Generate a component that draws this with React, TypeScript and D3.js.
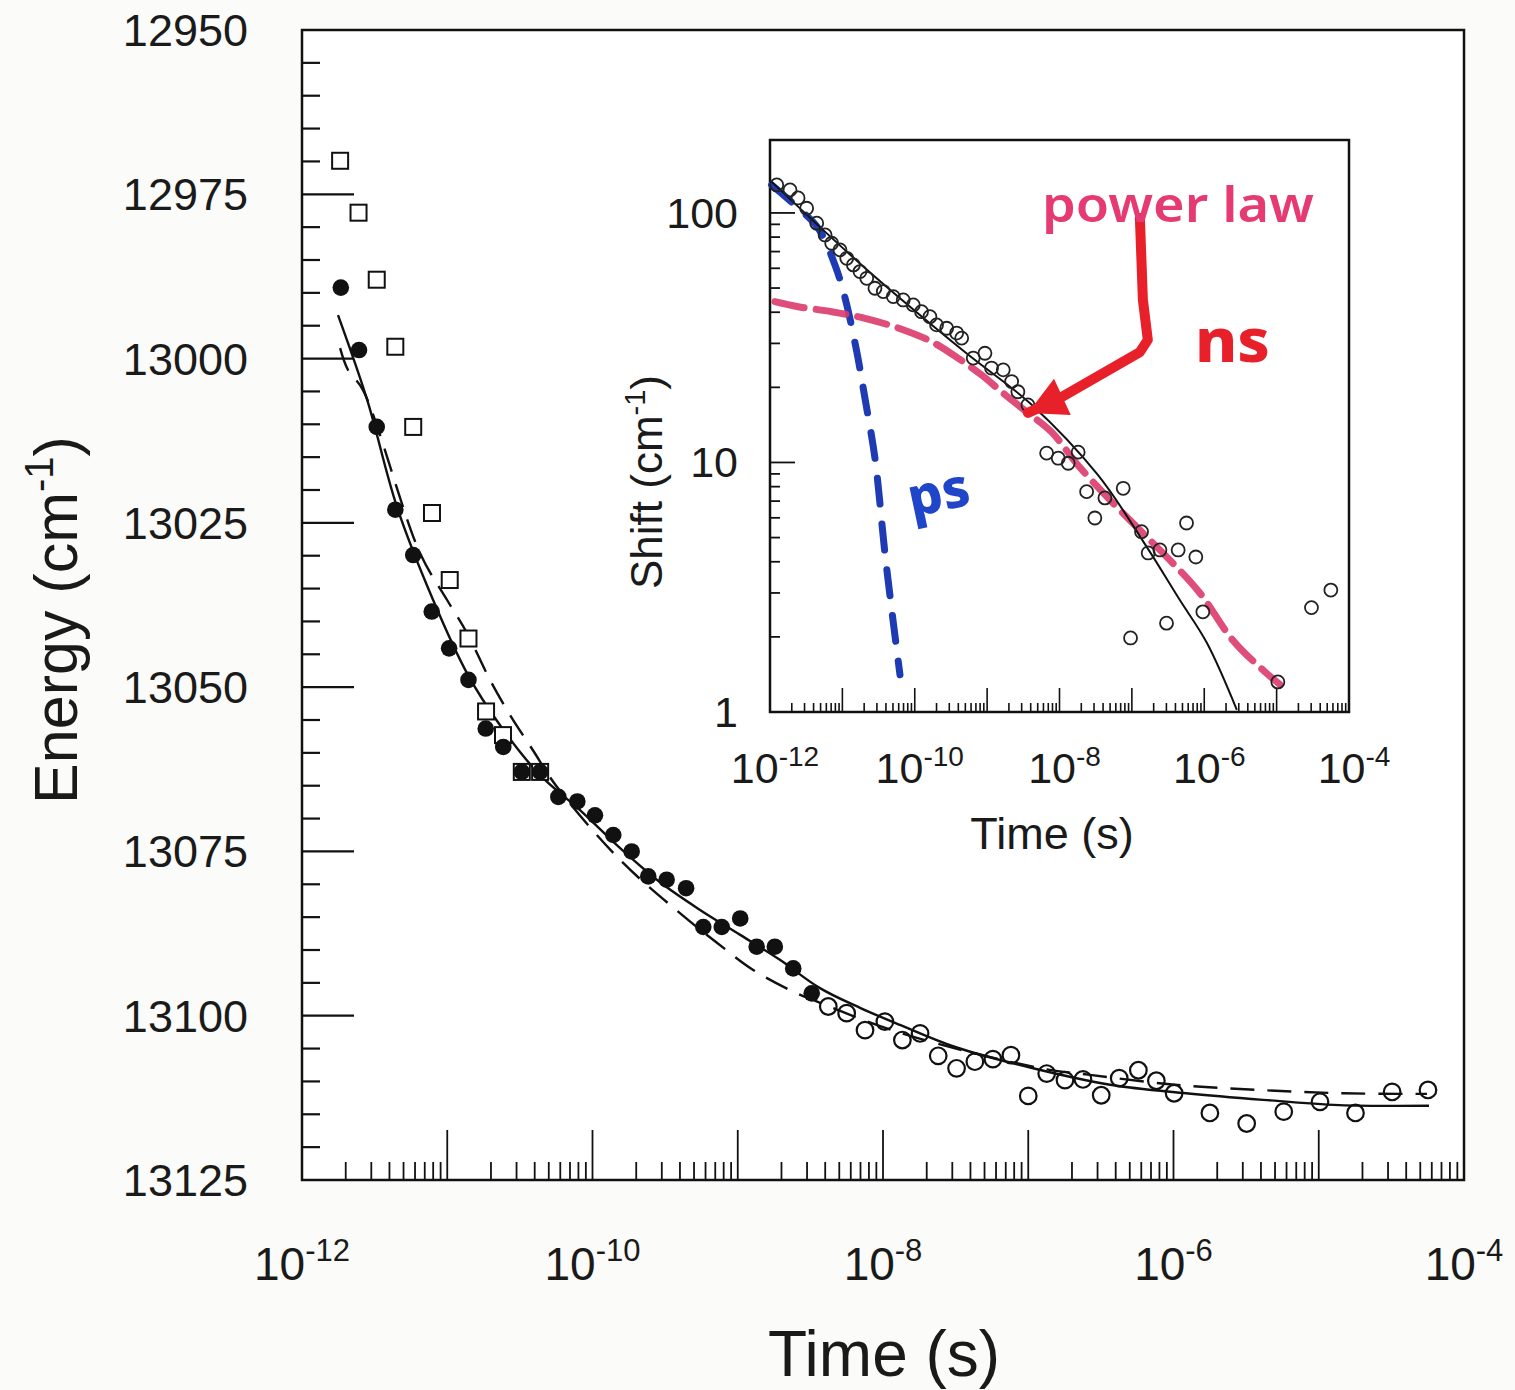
import React from "react";
import * as d3 from "d3";

// ---- main panel data (time in s, energy in cm^-1) ----
const squareTime = [1.83e-12, 2.45e-12, 3.27e-12, 4.39e-12, 5.83e-12, 7.85e-12, 1.04e-11, 1.4e-11, 1.85e-11, 2.42e-11, 3.26e-11, 4.36e-11];
const squareEnergy = [12969.9, 12977.8, 12988.0, 12998.2, 13010.4, 13023.5, 13033.7, 13042.6, 13053.7, 13057.3, 13062.9, 13062.9];

const filledTime = [1.85e-12, 2.47e-12, 3.27e-12, 4.39e-12, 5.83e-12, 7.82e-12, 1.03e-11, 1.4e-11, 1.84e-11, 2.43e-11, 3.26e-11, 4.36e-11, 5.82e-11, 7.86e-11, 1.04e-10, 1.39e-10, 1.86e-10, 2.42e-10, 3.24e-10, 4.41e-10, 5.79e-10, 7.76e-10, 1.04e-9, 1.35e-9, 1.8e-9, 2.41e-9, 3.23e-9];
const filledEnergy = [12989.2, 12998.7, 13010.4, 13023.0, 13029.9, 13038.5, 13044.1, 13048.9, 13056.3, 13059.1, 13062.9, 13062.9, 13066.7, 13067.4, 13069.5, 13072.5, 13075.0, 13078.8, 13079.3, 13080.6, 13086.5, 13086.5, 13085.2, 13089.5, 13089.5, 13092.8, 13096.6];

const openTime = [4.2e-9, 5.62e-9, 7.52e-9, 1.03e-8, 1.36e-8, 1.8e-8, 2.4e-8, 3.21e-8, 4.29e-8, 5.71e-8, 7.6e-8, 1.0e-7, 1.34e-7, 1.79e-7, 2.38e-7, 3.18e-7, 4.23e-7, 5.73e-7, 7.62e-7, 1.01e-6, 1.78e-6, 3.19e-6, 5.74e-6, 1.02e-5, 1.79e-5, 3.2e-5, 5.65e-5];
const openEnergy = [13098.6, 13099.6, 13102.2, 13100.9, 13103.7, 13102.7, 13106.1, 13108.0, 13107.0, 13106.6, 13106.0, 13112.2, 13108.8, 13109.8, 13109.7, 13112.1, 13109.5, 13108.3, 13109.9, 13111.8, 13114.8, 13116.4, 13114.6, 13113.1, 13114.8, 13111.6, 13111.3];

const solidFitTime = [1.77e-12, 2.81e-12, 4.51e-12, 7.98e-12, 1.37e-11, 2.31e-11, 4.36e-11, 8.2e-11, 1.55e-10, 2.92e-10, 5.5e-10, 1.04e-9, 1.95e-9, 3.68e-9, 6.95e-9, 1.31e-8, 3.18e-8, 1.08e-7, 3.66e-7, 1.22e-6, 4.13e-6, 1.38e-5, 5.74e-5];
const solidFitEnergy = [12993.4, 13006.3, 13022.6, 13036.7, 13047.9, 13055.8, 13063.4, 13068.7, 13074.5, 13079.7, 13083.9, 13087.7, 13091.5, 13095.8, 13098.8, 13101.4, 13104.8, 13108.0, 13110.5, 13111.8, 13112.8, 13113.6, 13113.7];

const dashFitTime = [1.83e-12, 2.07e-12, 2.63e-12, 6.49e-12, 9.95e-12, 1.37e-11, 1.97e-11, 2.7e-11, 3.89e-11, 5.7e-11, 1.55e-10, 4.0e-10, 7.19e-10, 1.27e-9, 2.29e-9, 3.3e-9, 1.31e-8, 1.22e-7, 2.66e-7, 1.02e-6, 3.88e-6, 1.47e-5, 5.56e-5];
const dashFitEnergy = [12998.4, 13001.7, 13004.8, 13029.6, 13036.7, 13041.8, 13048.9, 13054.2, 13059.6, 13065.2, 13076.3, 13084.4, 13088.9, 13093.0, 13096.1, 13097.6, 13102.6, 13108.0, 13109.0, 13110.5, 13111.3, 13111.8, 13111.9];

// ---- inset data (time in s, shift in cm^-1) ----
const insetTime = [1.24e-12, 1.89e-12, 2.44e-12, 3.21e-12, 4.42e-12, 5.77e-12, 7.12e-12, 9.27e-12, 1.15e-11, 1.42e-11, 1.75e-11, 2.17e-11, 2.82e-11, 3.68e-11, 5.05e-11, 6.93e-11, 9.53e-11, 1.24e-10, 1.62e-10, 2.0e-10, 2.76e-10, 3.79e-10, 4.45e-10, 6.43e-10, 9.33e-10, 1.15e-9, 1.67e-9, 2.18e-9, 2.66e-9, 3.66e-9, 6.64e-9, 9.6e-9, 1.32e-8, 1.81e-8, 2.37e-8, 3.08e-8, 4.24e-8, 7.59e-8, 1.36e-7, 1.68e-7, 2.44e-7, 4.36e-7, 5.69e-7, 7.65e-7, 9.57e-7, 3.01e-7, 9.59e-8, 1.04e-5, 3.03e-5, 5.61e-5];
const insetShift = [129.5, 123.7, 114.8, 104.4, 91.0, 81.6, 75.6, 71.1, 65.8, 61.9, 58.2, 54.7, 49.9, 48.4, 46.2, 44.8, 42.8, 40.2, 38.4, 35.6, 34.5, 33.0, 31.5, 26.2, 27.4, 23.9, 23.5, 21.1, 19.2, 17.0, 10.9, 10.4, 9.93, 11.0, 7.64, 5.99, 7.21, 7.88, 5.28, 4.34, 4.46, 4.46, 5.72, 4.18, 2.52, 2.27, 1.98, 1.32, 2.62, 3.08];

const insetSolidTime = [1.05e-12, 2.05e-11, 4.93e-10, 4.16e-9, 3.39e-8, 1.61e-7, 4.6e-7, 1.09e-6, 2.82e-6];
const insetSolidShift = [133.5, 60.2, 27.7, 17.0, 8.91, 4.58, 2.81, 1.89, 1.02];

const powerTime = [1.17e-12, 2.44e-12, 7.12e-12, 2.05e-11, 5.86e-11, 1.71e-10, 3.95e-10, 8.4e-10, 1.76e-9, 3.66e-9, 7.85e-9, 1.79e-8, 4.97e-8, 1.29e-7, 3.35e-7, 8.69e-7, 2.48e-6, 6.87e-6, 1.11e-5];
const powerShift = [44.1, 42.1, 40.2, 37.8, 34.6, 30.5, 26.2, 22.4, 18.7, 15.8, 13.2, 9.77, 7.08, 5.36, 4.06, 3.0, 1.94, 1.45, 1.29];

const psTime = [1.05e-12, 2.44e-12, 4.6e-12, 7.9e-12, 1.09e-11, 1.58e-11, 2.05e-11, 2.82e-11, 3.87e-11, 5.0e-11, 6.25e-11];
const psShift = [129.5, 104.7, 87.1, 61.9, 45.6, 27.8, 18.1, 10.4, 4.34, 2.34, 1.41];

// hand-drawn arrow (time, shift)
const arrowTime = [1.29e-7, 1.42e-7, 1.66e-7, 1.29e-7, 1.01e-8, 3.66e-9];
const arrowShift = [95.5, 44.8, 31.0, 27.7, 18.1, 15.8];

const mainYTicks = [12950, 12975, 13000, 13025, 13050, 13075, 13100, 13125];
const mainXLabels = [-12, -10, -8, -6, -4];
const insetYLabels = [1, 10, 100];
const insetXLabels = [-12, -10, -8, -6, -4];

const FONT = "'Liberation Sans', Arial, sans-serif";

const zip = (a: number[], b: number[]) => a.map((v, i) => [v, b[i]] as [number, number]);

export default function App() {
  /* scales */
  const xMain = d3.scaleLog().domain([1e-12, 1e-4]).range([302, 1464]);
  const yMain = d3.scaleLinear().domain([12950, 13125]).range([30, 1180]);
  const xIn = d3.scaleLog().domain([1e-12, 1e-4]).range([770, 1349]);
  const yIn = d3.scaleLog().domain([1, 196]).range([712, 140]);

  const mainLine = d3
    .line<[number, number]>()
    .x((d) => xMain(d[0]))
    .y((d) => yMain(d[1]))
    .curve(d3.curveCatmullRom.alpha(0.5));
  const inLine = d3
    .line<[number, number]>()
    .x((d) => xIn(d[0]))
    .y((d) => yIn(d[1]))
    .curve(d3.curveCatmullRom.alpha(0.5));

  /* minor tick positions */
  const decades = d3.range(-12, -4);
  const minorX = decades.flatMap((e) => d3.range(2, 10).map((k) => k * Math.pow(10, e)));
  const majorX = decades.slice(1).map((e) => Math.pow(10, e));
  const minorYMain = d3.range(12955, 13125, 5).filter((v) => v % 25 !== 0);
  const minorYIn = [0, 1, 2].flatMap((e) => d3.range(2, 10).map((k) => k * Math.pow(10, e))).filter((v) => v < 196);

  /* arrow */
  const arrowPts = zip(arrowTime, arrowShift).map((d) => [xIn(d[0]), yIn(d[1])] as [number, number]);
  const tip = arrowPts[arrowPts.length - 1];
  const prev = arrowPts[arrowPts.length - 2];
  const ang = Math.atan2(tip[1] - prev[1], tip[0] - prev[0]);
  const headLen = 38;
  const headW = 20;
  const bx = tip[0] - headLen * Math.cos(ang);
  const by = tip[1] - headLen * Math.sin(ang);
  const head = [
    [tip[0], tip[1]],
    [bx + headW * Math.sin(ang), by - headW * Math.cos(ang)],
    [bx - headW * Math.sin(ang), by + headW * Math.cos(ang)],
  ];

  return (
    <div style={{ position: "absolute", left: 0, top: 0 }}>
      <svg width={1515} height={1390} style={{ display: "block", background: "#fbfbf9" }} fontFamily={FONT}>
        {/* ---------- main panel ---------- */}
        <rect x={xMain(1e-12)} y={yMain(12950)} width={xMain(1e-4) - xMain(1e-12)} height={yMain(13125) - yMain(12950)} fill="#ffffff" stroke="#111" strokeWidth={2.5} />

        {/* y ticks */}
        {mainYTicks.map((v) => (
          <g key={"my" + v}>
            {v !== 12950 && v !== 13125 && (
              <line x1={302} x2={354} y1={yMain(v)} y2={yMain(v)} stroke="#111" strokeWidth={2.2} />
            )}
            <text x={248} y={yMain(v) + 16} textAnchor="end" fontSize={45} fill="#1a1a1a">
              {v}
            </text>
          </g>
        ))}
        {minorYMain.map((v) => (
          <line key={"mmy" + v} x1={302} x2={320} y1={yMain(v)} y2={yMain(v)} stroke="#111" strokeWidth={2.2} />
        ))}

        {/* x ticks */}
        {minorX.map((v, i) => (
          <line key={"mmx" + i} x1={xMain(v)} x2={xMain(v)} y1={1180} y2={1162} stroke="#111" strokeWidth={1.8} />
        ))}
        {majorX.map((v, i) => (
          <line key={"mMx" + i} x1={xMain(v)} x2={xMain(v)} y1={1180} y2={1130} stroke="#111" strokeWidth={1.8} />
        ))}
        {mainXLabels.map((e) => (
          <text key={"mxl" + e} x={xMain(Math.pow(10, e))} y={1280} textAnchor="middle" fontSize={46} fill="#1a1a1a">
            10
            <tspan dy={-19} fontSize={31}>
              {String(e)}
            </tspan>
          </text>
        ))}

        {/* axis titles */}
        <text x={884} y={1376} textAnchor="middle" fontSize={64} fill="#1a1a1a">
          Time (s)
        </text>
        <text transform="translate(77,620) rotate(-90)" textAnchor="middle" fontSize={61} fill="#1a1a1a">
          Energy (cm
          <tspan dy={-24} fontSize={40}>
            -1
          </tspan>
          <tspan dy={24}>)</tspan>
        </text>

        {/* fits */}
        <path d={mainLine(zip(solidFitTime, solidFitEnergy)) || ""} fill="none" stroke="#111" strokeWidth={2.4} />
        <path d={mainLine(zip(dashFitTime, dashFitEnergy)) || ""} fill="none" stroke="#111" strokeWidth={2.4} strokeDasharray="24 13" />

        {/* data */}
        {squareTime.map((t, i) => (
          <rect key={"sq" + i} x={xMain(t) - 8} y={yMain(squareEnergy[i]) - 8} width={16} height={16} fill="#fff" stroke="#111" strokeWidth={2} />
        ))}
        {filledTime.map((t, i) => (
          <circle key={"fc" + i} cx={xMain(t)} cy={yMain(filledEnergy[i])} r={8.3} fill="#111" />
        ))}
        {openTime.map((t, i) => (
          <circle key={"oc" + i} cx={xMain(t)} cy={yMain(openEnergy[i])} r={8.3} fill="none" stroke="#111" strokeWidth={2.2} />
        ))}

        {/* ---------- inset ---------- */}
        <rect x={xIn(1e-12)} y={yIn(196)} width={xIn(1e-4) - xIn(1e-12)} height={yIn(1) - yIn(196)} fill="#ffffff" stroke="#111" strokeWidth={2.5} />
        {minorYIn.map((v, i) => (
          <line key={"imy" + i} x1={770} x2={780} y1={yIn(v)} y2={yIn(v)} stroke="#111" strokeWidth={1.8} />
        ))}
        {[10, 100].map((v) => (
          <line key={"iMy" + v} x1={770} x2={795} y1={yIn(v)} y2={yIn(v)} stroke="#111" strokeWidth={1.8} />
        ))}
        {insetYLabels.map((v) => (
          <text key={"iyl" + v} x={738} y={yIn(v) + 15} textAnchor="end" fontSize={43} fill="#1a1a1a">
            {v}
          </text>
        ))}
        {minorX.map((v, i) => (
          <line key={"imx" + i} x1={xIn(v)} x2={xIn(v)} y1={712} y2={703} stroke="#111" strokeWidth={1.6} />
        ))}
        {majorX.map((v, i) => (
          <line key={"iMx" + i} x1={xIn(v)} x2={xIn(v)} y1={712} y2={688} stroke="#111" strokeWidth={1.6} />
        ))}
        {insetXLabels.map((e) => (
          <text key={"ixl" + e} x={xIn(Math.pow(10, e)) + 5} y={783} textAnchor="middle" fontSize={43} fill="#1a1a1a">
            10
            <tspan dy={-17} fontSize={28}>
              {String(e)}
            </tspan>
          </text>
        ))}
        <text x={1052} y={849} textAnchor="middle" fontSize={45} fill="#1a1a1a">
          Time (s)
        </text>
        <text transform="translate(662,482) rotate(-90)" textAnchor="middle" fontSize={44} fill="#1a1a1a">
          Shift (cm
          <tspan dy={-17} fontSize={29}>
            -1
          </tspan>
          <tspan dy={17}>)</tspan>
        </text>

        {/* inset fits */}
        <path d={inLine(zip(psTime, psShift)) || ""} fill="none" stroke="#1f3bb3" strokeWidth={7} strokeLinecap="round" strokeDasharray="26 20" />
        <path d={inLine(zip(powerTime, powerShift)) || ""} fill="none" stroke="#dc3a6c" strokeWidth={7} strokeLinecap="round" strokeDasharray="30 12" opacity={0.9} />
        <path d={inLine(zip(insetSolidTime, insetSolidShift)) || ""} fill="none" stroke="#111" strokeWidth={2} />
        {insetTime.map((t, i) => (
          <circle key={"ic" + i} cx={xIn(t)} cy={yIn(insetShift[i])} r={6.5} fill="none" stroke="#222" strokeWidth={1.8} />
        ))}

        {/* hand annotations */}
        <path d={d3.line()(arrowPts) || ""} fill="none" stroke="#e8202a" strokeWidth={10} strokeLinejoin="round" strokeLinecap="round" />
        <polygon points={head.map((p) => p.join(",")).join(" ")} fill="#e8202a" />
        <text x={1042} y={222} fontSize={48} fontFamily="'Noto Sans', sans-serif" fontWeight={600} fill="#e63a72" textLength={272} lengthAdjust="spacingAndGlyphs">
          power law
        </text>
        <text x={1195} y={362} fontSize={60} fontFamily="'Noto Sans', sans-serif" fontWeight={800} fill="#e8202a" textLength={75} lengthAdjust="spacingAndGlyphs">
          ns
        </text>
        <text x={908} y={512} fontSize={54} fontFamily="'Noto Sans', sans-serif" fontWeight={800} fill="#1f45c8" transform="rotate(-12 935 495)">
          ps
        </text>
      </svg>
    </div>
  );
}
